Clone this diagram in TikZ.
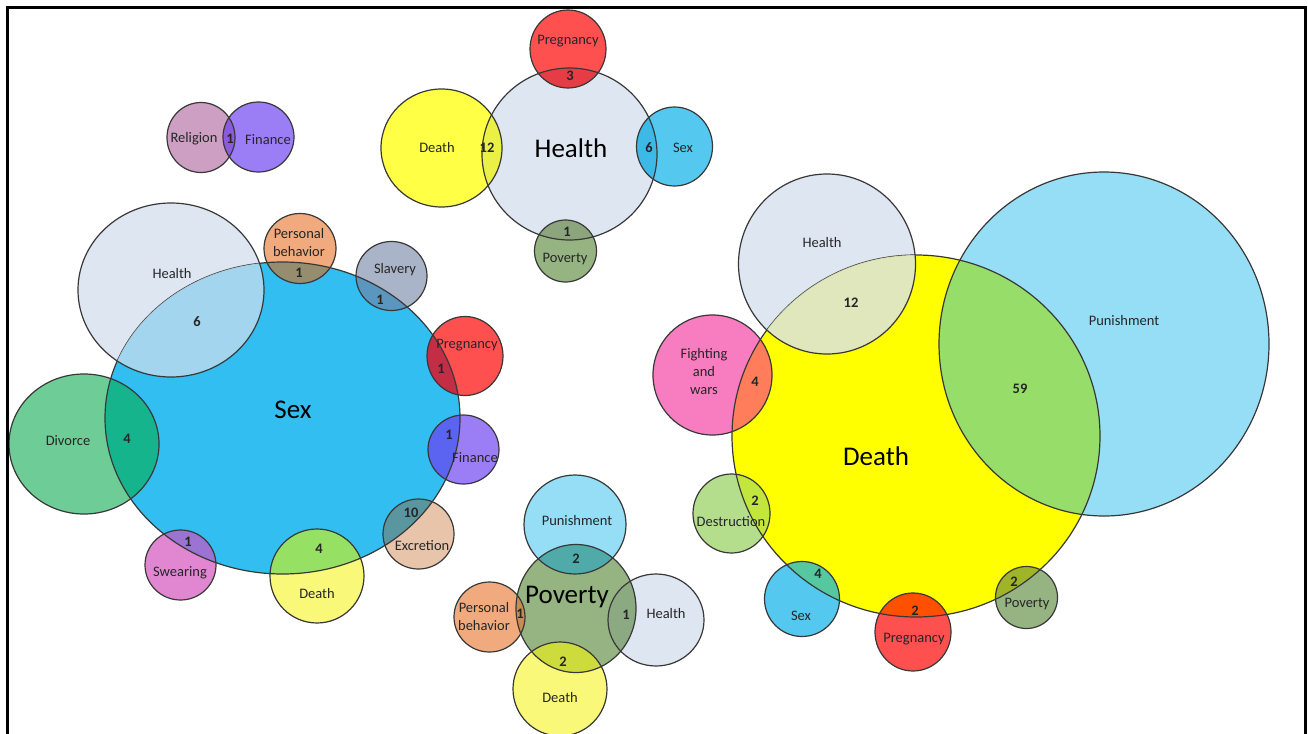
\documentclass[tikz,border=0pt]{standalone}
\usepackage{fontspec}
\setmainfont{Carlito}
\definecolor{outl}{HTML}{383838}
\definecolor{labc}{HTML}{262626}
% base colours
\definecolor{cSexBig}{HTML}{32BEF0}
\definecolor{cSexSm}{HTML}{55C8F0}
\definecolor{cHealth}{HTML}{DEE6F2}
\definecolor{cDeathBig}{HTML}{FFFF00}
\definecolor{cDeathSm}{HTML}{FAF878}
\definecolor{cDeathH}{HTML}{FFFF46}
\definecolor{cPun}{HTML}{96DEF5}
\definecolor{cPreg}{HTML}{FF5050}
\definecolor{cPov}{HTML}{96B482}
\definecolor{cPB}{HTML}{F0AA7D}
\definecolor{cSlav}{HTML}{AAB4C8}
\definecolor{cFin}{HTML}{9B7DF5}
\definecolor{cRel}{HTML}{CDA0C3}
\definecolor{cDiv}{HTML}{6ECD96}
\definecolor{cSwear}{HTML}{E187D2}
\definecolor{cExc}{HTML}{E8C4AA}
\definecolor{cFight}{HTML}{F87DC0}
\definecolor{cDestr}{HTML}{B4DE8C}
% overlap colours
\definecolor{oRelFin}{HTML}{8C5ADC}
\definecolor{oHPreg}{HTML}{E63C46}
\definecolor{oHDeath}{HTML}{EBF046}
\definecolor{oHSex}{HTML}{3CB9E6}
\definecolor{oHPov}{HTML}{8CA57D}
\definecolor{oSH}{HTML}{B7DAEE}
\definecolor{oSPB}{HTML}{968C6E}
\definecolor{oSSlav}{HTML}{5A96BE}
\definecolor{oSPreg}{HTML}{C32D46}
\definecolor{oSFin}{HTML}{5A64F0}
\definecolor{oSExc}{HTML}{5A96A0}
\definecolor{oSDeath}{HTML}{96E164}
\definecolor{oSSwear}{HTML}{9B73D2}
\definecolor{oSDiv}{HTML}{16B48C}
\definecolor{oPPun}{HTML}{50AAAA}
\definecolor{oPPB}{HTML}{C88C50}
\definecolor{oPH}{HTML}{8CAA82}
\definecolor{oPDeath}{HTML}{CDDC3C}
\definecolor{oDH}{HTML}{E1E8B4}
\definecolor{oDPun}{HTML}{96DE69}
\definecolor{oDFight}{HTML}{FF7D5A}
\definecolor{oDDestr}{HTML}{C3E63C}
\definecolor{oDSex}{HTML}{55C8A0}
\definecolor{oDPreg}{HTML}{FF5000}
\definecolor{oDPov}{HTML}{A0B428}
% circle shapes
\def\ZsS{(282.5,418) ellipse [x radius=177.5, y radius=156]}
\def\ZsH{(171,290) ellipse [x radius=93, y radius=87]}
\def\ZsPB{(300,248.5) ellipse [x radius=36, y radius=35]}
\def\ZsSl{(391.5,276) ellipse [x radius=35.5, y radius=34.5]}
\def\ZsPr{(465,356) ellipse [x radius=38, y radius=39.5]}
\def\ZsFi{(463.5,449.5) ellipse [x radius=35.5, y radius=34.5]}
\def\ZsEx{(418.5,534) ellipse [x radius=35.5, y radius=35]}
\def\ZsDe{(317,576) ellipse [x radius=47, y radius=47]}
\def\ZsSw{(180.5,565) ellipse [x radius=35.5, y radius=35]}
\def\ZsDv{(84,444) ellipse [x radius=75, y radius=70]}
%
\def\ZhH{(569.5,154) ellipse [x radius=87.5, y radius=86]}
\def\ZhPr{(568,49) ellipse [x radius=38, y radius=39]}
\def\ZhDe{(441.5,148) ellipse [x radius=60.5, y radius=59]}
\def\ZhSx{(674.5,146.5) ellipse [x radius=38, y radius=39.5]}
\def\ZhPv{(565.5,251) ellipse [x radius=31, y radius=31]}
%
\def\ZrR{(201,137.5) ellipse [x radius=34, y radius=35]}
\def\ZrF{(258.5,137) ellipse [x radius=35.5, y radius=35]}
%
\def\ZpP{(576,608.5) ellipse [x radius=60, y radius=64]}
\def\ZpPu{(575,524.5) ellipse [x radius=51, y radius=49.5]}
\def\ZpPB{(489.5,617) ellipse [x radius=35.5, y radius=35]}
\def\ZpH{(656,620) ellipse [x radius=48, y radius=46]}
\def\ZpD{(560,689) ellipse [x radius=47, y radius=47]}
%
\def\ZdD{(916,436) ellipse [x radius=184, y radius=181]}
\def\ZdPu{(1104,344) ellipse [x radius=165, y radius=172]}
\def\ZdH{(827,264) ellipse [x radius=88.5, y radius=90]}
\def\ZdF{(712.5,375) ellipse [x radius=59.5, y radius=60]}
\def\ZdDs{(731.5,513.5) ellipse [x radius=38.5, y radius=39.5]}
\def\ZdSx{(802,599) ellipse [x radius=37.5, y radius=37.5]}
\def\ZdPr{(913,632) ellipse [x radius=38, y radius=39]}
\def\ZdPv{(1026.5,597.5) ellipse [x radius=31, y radius=31]}
\begin{document}
\begin{tikzpicture}[x=1pt,y=-1pt,
  ring/.style={draw=outl, line width=1.2pt},
  lab/.style={font=\fontsize{14.5}{18}\selectfont, text=labc, align=center, inner sep=0pt},
  num/.style={font=\fontsize{14.5}{18}\selectfont\bfseries, text=labc, inner sep=0pt},
  big/.style={font=\fontsize{27}{30}\selectfont, text=black, inner sep=0pt}]
\useasboundingbox (0,0) rectangle (1308,733);
\fill[white] (0,0) rectangle (1308,733);
\begin{scope}
\clip (0,0) rectangle (1308,733);
% ================= Religion / Finance
\fill[cRel] \ZrR; \fill[cFin] \ZrF;
\begin{scope}\clip \ZrR; \fill[oRelFin] \ZrF;\end{scope}
\draw[ring] \ZrR; \draw[ring] \ZrF;
% ================= Health group
\fill[cHealth] \ZhH;
\fill[cPreg] \ZhPr; \fill[cDeathH] \ZhDe; \fill[cSexSm] \ZhSx; \fill[cPov] \ZhPv;
\begin{scope}\clip \ZhH; \fill[oHPreg] \ZhPr; \fill[oHDeath] \ZhDe; \fill[oHSex] \ZhSx; \fill[oHPov] \ZhPv;\end{scope}
\draw[ring] \ZhH;
\draw[ring] \ZhPr; \draw[ring] \ZhDe; \draw[ring] \ZhSx; \draw[ring] \ZhPv;
% ================= Sex group
\fill[cHealth] \ZsH; \fill[cSexBig] \ZsS;
\fill[cPB] \ZsPB; \fill[cSlav] \ZsSl; \fill[cPreg] \ZsPr; \fill[cFin] \ZsFi;
\fill[cExc] \ZsEx; \fill[cDeathSm] \ZsDe; \fill[cSwear] \ZsSw; \fill[cDiv] \ZsDv;
\begin{scope}\clip \ZsS;
 \fill[oSPB] \ZsPB; \fill[oSSlav] \ZsSl; \fill[oSPreg] \ZsPr; \fill[oSFin] \ZsFi;
 \fill[oSExc] \ZsEx; \fill[oSDeath] \ZsDe; \fill[oSSwear] \ZsSw; \fill[oSDiv] \ZsDv;
\end{scope}
\draw[ring] \ZsS;
\begin{scope}\clip \ZsS; \fill[oSH, fill opacity=0.85] \ZsH;\end{scope}
\draw[ring] \ZsH; \draw[ring] \ZsPB; \draw[ring] \ZsSl; \draw[ring] \ZsPr; \draw[ring] \ZsFi;
\draw[ring] \ZsEx; \draw[ring] \ZsDe; \draw[ring] \ZsSw; \draw[ring] \ZsDv;
% ================= Poverty group
\fill[cPov] \ZpP;
\fill[cPun] \ZpPu; \fill[cPB] \ZpPB; \fill[cHealth] \ZpH; \fill[cDeathSm] \ZpD;
\begin{scope}\clip \ZpP; \fill[oPPun] \ZpPu; \fill[oPPB] \ZpPB; \fill[oPH] \ZpH; \fill[oPDeath] \ZpD;\end{scope}
\draw[ring] \ZpP;
\draw[ring] \ZpPu; \draw[ring] \ZpPB; \draw[ring] \ZpH; \draw[ring] \ZpD;
% ================= Death group
\fill[cPun] \ZdPu; \fill[cDeathBig] \ZdD; \fill[cHealth] \ZdH;
\fill[cFight] \ZdF; \fill[cDestr] \ZdDs; \fill[cSexSm] \ZdSx; \fill[cPreg] \ZdPr; \fill[cPov] \ZdPv;
\begin{scope}\clip \ZdD;
 \fill[oDPun] \ZdPu; \fill[oDFight] \ZdF; \fill[oDDestr] \ZdDs; \fill[oDSex] \ZdSx;
 \fill[oDPreg] \ZdPr; \fill[oDPov] \ZdPv;
\end{scope}
\draw[ring] \ZdD;
\begin{scope}\clip \ZdD; \fill[oDH, fill opacity=0.85] \ZdH;\end{scope}
\draw[ring] \ZdPu; \draw[ring] \ZdH; \draw[ring] \ZdF; \draw[ring] \ZdDs;
\draw[ring] \ZdSx; \draw[ring] \ZdPr; \draw[ring] \ZdPv;
% frame
\draw[line width=2.7pt] (7.3,745) -- (7.3,7.3) -- (1305.3,7.3) -- (1305.3,745);
\end{scope}
% ================= labels: Religion/Finance
\node[lab] (rRel) at (194,139) {Religion};
\node[num] (rN) at (230,139) {1};
\node[lab] (rFin) at (268,140) {Finance};
% Health group
\node[big] (hBig) at (571,148) {Health};
\node[lab] (hPreg) at (568,41) {Pregnancy};
\node[num] (hN1) at (570,76) {3};
\node[lab] (hDeath) at (437,148) {Death};
\node[num] (hN2) at (487,148) {12};
\node[num] (hN3) at (649,148) {6};
\node[lab] (hSex) at (683,148) {Sex};
\node[num] (hN4) at (567,232) {1};
\node[lab] (hPov) at (565,259) {Poverty};
% Sex group
\node[big] (sBig) at (293,410) {Sex};
\node[lab] (sHealth) at (172,274) {Health};
\node[num] (sN1) at (197,322) {6};
\node[lab] (sPB) at (299,243) {Personal\\behavior};
\node[num] (sN2) at (299,273) {1};
\node[lab] (sSlav) at (395,270) {Slavery};
\node[num] (sN3) at (380,300) {1};
\node[lab] (sPreg) at (467,345) {Pregnancy};
\node[num] (sN4) at (441,369) {1};
\node[num] (sN5) at (449,435) {1};
\node[lab] (sFin) at (475,458) {Finance};
\node[num] (sN6) at (411,513) {10};
\node[lab] (sExc) at (422,546) {Excretion};
\node[lab] (sDiv) at (68,441) {Divorce};
\node[num] (sN7) at (127,439) {4};
\node[num] (sN8) at (188,542) {1};
\node[lab] (sSwear) at (180,573) {Swearing};
\node[num] (sN9) at (319,549) {4};
\node[lab] (sDeath) at (317,594) {Death};
% Poverty group
\node[big] (pBig) at (567,597) {Poverty};
\node[lab] (pPun) at (577,521) {Punishment};
\node[num] (pN1) at (576,559) {2};
\node[lab] (pPB) at (484,617) {Personal\\behavior};
\node[num] (pN2) at (520,614) {1};
\node[num] (pN3) at (626,615) {1};
\node[lab] (pHealth) at (666,614) {Health};
\node[num] (pN4) at (563,662) {2};
\node[lab] (pDeath) at (560,698) {Death};
% Death group
\node[big] (dBig) at (876,456) {Death};
\node[lab] (dHealth) at (822,243) {Health};
\node[num] (dN1) at (851,303) {12};
\node[lab] (dPun) at (1124,321) {Punishment};
\node[num] (dN2) at (1020,389) {59};
\node[lab] (dFight) at (704,372) {Fighting\\and\\wars};
\node[num] (dN3) at (755,382) {4};
\node[num] (dN4) at (755,501) {2};
\node[lab] (dDestr) at (731,522) {Destruction};
\node[num] (dN5) at (818,574) {4};
\node[lab] (dSex) at (801,616) {Sex};
\node[num] (dN6) at (915,611) {2};
\node[lab] (dPreg) at (914,639) {Pregnancy};
\node[num] (dN7) at (1014,582) {2};
\node[lab] (dPov) at (1027,604) {Poverty};
\end{tikzpicture}
\end{document}
